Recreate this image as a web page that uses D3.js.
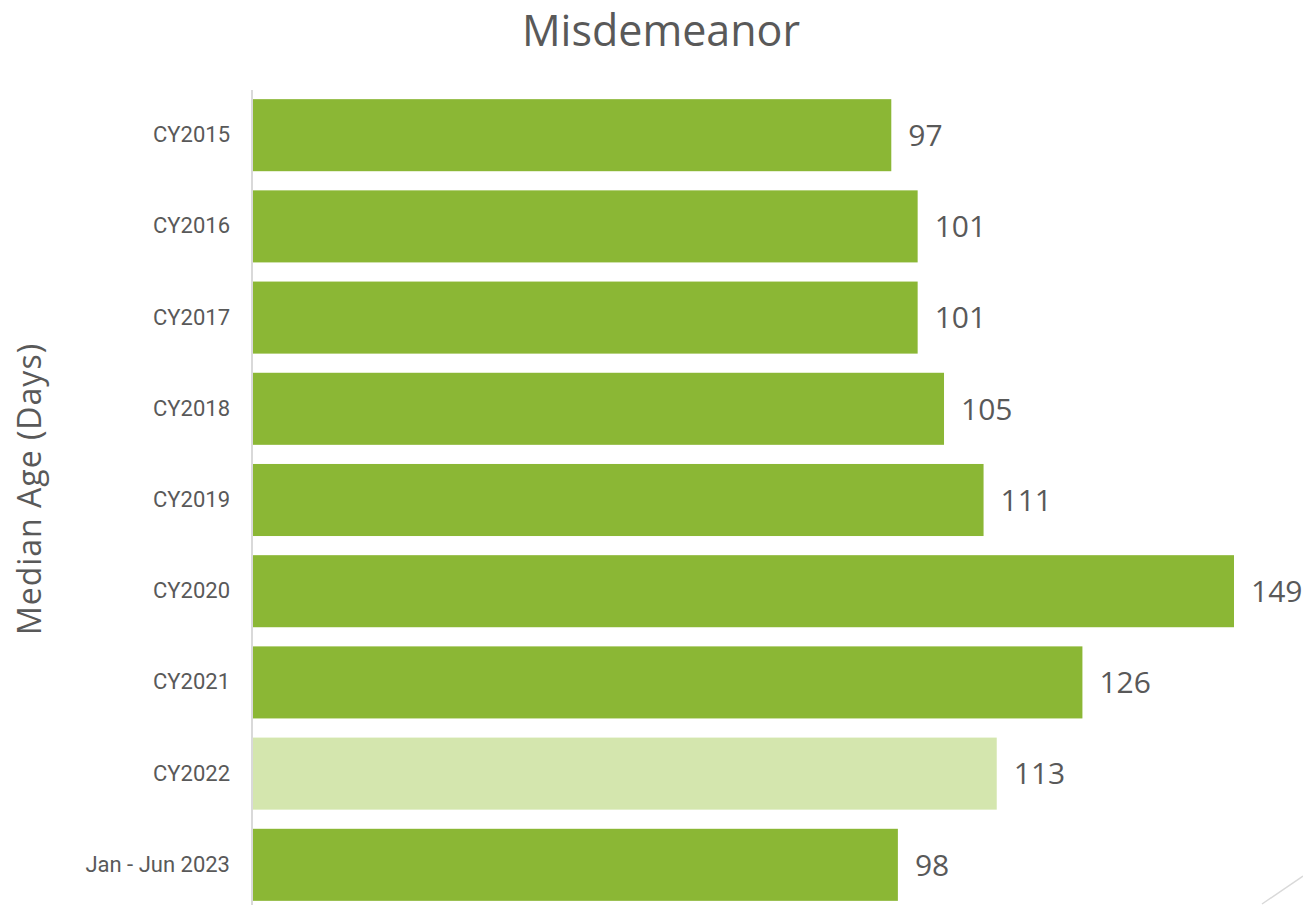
<!DOCTYPE html>
<html>
<head>
<meta charset="utf-8">
<script src="https://d3js.org/d3.v7.min.js"></script>
<style>
  html, body { margin: 0; padding: 0; background: #fff; }
  svg { display: block; }
</style>
</head>
<body>
<div id="chart"></div>
<script>
// chart values
var categories = ["CY2015", "CY2016", "CY2017", "CY2018", "CY2019", "CY2020", "CY2021", "CY2022", "Jan - Jun 2023"];
var values = [97, 101, 101, 105, 111, 149, 126, 113, 98];
var highlighted = ["CY2022"];

var W = 1303, H = 905;
var svg = d3.select("#chart").append("svg")
    .attr("width", W)
    .attr("height", H);

var x = d3.scaleLinear().domain([0, 149]).range([252, 1234]);
var y = d3.scaleBand().domain(categories).range([80, 920]).padding(0.21);

// title
svg.append("text")
    .attr("x", 661).attr("y", 46)
    .attr("text-anchor", "middle")
    .attr("font-family", "'Open Sans', sans-serif")
    .attr("font-size", 43)
    .attr("fill", "#595959")
    .text("Misdemeanor");

// axis title
svg.append("text")
    .attr("transform", "translate(41,489) rotate(-90)")
    .attr("text-anchor", "middle")
    .attr("font-family", "'Open Sans', sans-serif")
    .attr("font-size", 32)
    .attr("letter-spacing", 1)
    .attr("fill", "#595959")
    .text("Median Age (Days)");

// bars
svg.selectAll("rect.bar")
    .data(categories)
    .enter().append("rect")
    .attr("class", "bar")
    .attr("x", x(0) + 1)
    .attr("y", function(d) { return y(d); })
    .attr("width", function(d, i) { return x(values[i]) - x(0) - 1; })
    .attr("height", y.bandwidth())
    .attr("fill", function(d) { return highlighted.indexOf(d) >= 0 ? "#d4e6ae" : "#8bb735"; });

// value labels
svg.selectAll("text.val")
    .data(categories)
    .enter().append("text")
    .attr("class", "val")
    .attr("x", function(d, i) { return x(values[i]) + 17; })
    .attr("y", function(d) { return y(d) + y.bandwidth() / 2; })
    .attr("dy", "0.36em")
    .attr("font-family", "'Open Sans', sans-serif")
    .attr("font-size", 30)
    .attr("fill", "#595959")
    .text(function(d, i) { return values[i]; });

// category axis
var yAxis = svg.append("g")
    .attr("transform", "translate(" + x(0) + ",0)")
    .call(d3.axisLeft(y).tickSize(0).tickPadding(22));
yAxis.select(".domain").remove();
yAxis.selectAll("text")
    .attr("font-family", "Roboto, sans-serif")
    .attr("font-size", 22)
    .attr("fill", "#595959");

svg.append("line")
    .attr("x1", x(0)).attr("x2", x(0))
    .attr("y1", 90).attr("y2", 905)
    .attr("stroke", "#d9d9d9")
    .attr("stroke-width", 2);

// slide corner decoration
svg.append("line")
    .attr("x1", 1262).attr("y1", 904)
    .attr("x2", 1303).attr("y2", 876)
    .attr("stroke", "#d9d9d9")
    .attr("stroke-width", 1.5);
</script>
</body>
</html>
